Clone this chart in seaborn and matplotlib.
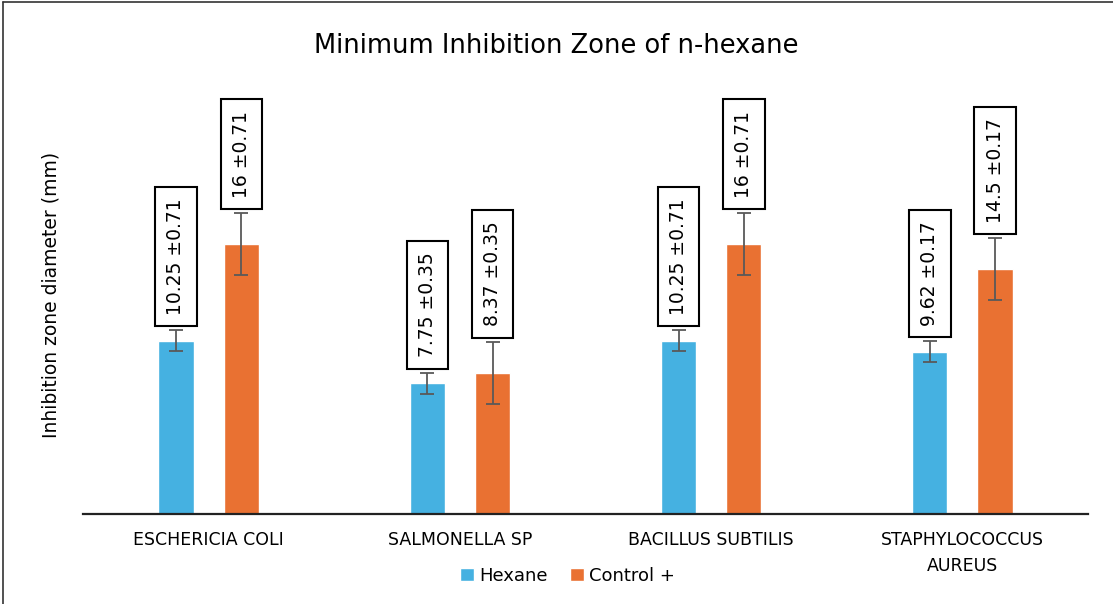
import pandas as pd
import matplotlib.pyplot as plt
import seaborn as sns
from matplotlib.lines import Line2D

# Datos
organismos = ['ESCHERICIA COLI', 'SALMONELLA SP', 'BACILLUS SUBTILIS', 'STAPHYLOCOCCUS\nAUREUS']
hexano = [10.25, 7.75, 10.25, 9.62]
control = [16, 8.37, 16, 14.5]
err_hexano = [0.62, 0.62, 0.62, 0.62]
err_control = [1.83, 1.83, 1.83, 1.83]
etiq_hexano = ['10.25 \u00b10.71', '7.75 \u00b10.35', '10.25 \u00b10.71', '9.62 \u00b10.17']
etiq_control = ['16 \u00b10.71', '8.37 \u00b10.35', '16 \u00b10.71', '14.5 \u00b10.17']
series = ['Hexane', 'Control +']
colores = ['#45B1E1', '#E97132']

df = pd.DataFrame({
    'organismo': organismos * 2,
    'valor': hexano + control,
    'serie': [series[0]] * 4 + [series[1]] * 4,
})

sns.set_style('white')
plt.rcParams['font.family'] = ['DejaVu Sans']
plt.rcParams['text.color'] = 'black'
plt.rcParams['axes.labelcolor'] = 'black'
plt.rcParams['xtick.color'] = 'black'

fig = plt.figure(figsize=(11.13, 6.04), dpi=100)
ax = fig.add_axes([0.0746, 0.149, 0.903, 0.727])

sns.barplot(data=df, x='organismo', y='valor', hue='serie', palette=colores,
            saturation=1, width=0.52, gap=0.46, ax=ax, errorbar=None)

# Barras de error y etiquetas con recuadro
for cont, vals, errs, etiqs in zip(ax.containers, [hexano, control],
                                   [err_hexano, err_control], [etiq_hexano, etiq_control]):
    xs = [p.get_x() + p.get_width() / 2 for p in cont.patches]
    ax.errorbar(xs, vals, yerr=errs, fmt='none', ecolor='#595959',
                elinewidth=1.3, capsize=5, capthick=1.3)
    for x, v, e, t in zip(xs, vals, errs, etiqs):
        ax.annotate(t, xy=(x, v + e), xytext=(0, 11), textcoords='offset points',
                    rotation=90, ha='center', va='bottom', fontsize=13.5,
                    bbox=dict(boxstyle='square,pad=0.6', fc='white', ec='black', lw=1.5))

ax.set_ylim(0, 26)
ax.set_xlim(-0.5, 3.5)
ax.set_yticks([])
ax.set_xlabel('')
ax.set_ylabel('Inhibition zone diameter (mm)', fontsize=13.5, labelpad=16)
ax.tick_params(axis='x', length=0, pad=12, labelsize=12.5)
for lab in ax.get_xticklabels():
    lab.set_linespacing(1.6)
for s in ['left', 'right', 'top']:
    ax.spines[s].set_visible(False)
ax.spines['bottom'].set_color('#222222')
ax.spines['bottom'].set_linewidth(1.6)

fig.suptitle('Minimum Inhibition Zone of n-hexane', fontsize=18.5, y=0.945)

ax.legend(loc='upper center', bbox_to_anchor=(0.482, -0.083), ncol=2, frameon=False,
          fontsize=13, handlelength=0.8, handleheight=0.8, handletextpad=0.3,
          columnspacing=1.2)

# Marco de la figura
fig.add_artist(Line2D([0.003, 0.003], [0, 0.997], color='#333333', lw=1.2))
fig.add_artist(Line2D([0.003, 1], [0.997, 0.997], color='#333333', lw=1.2))

plt.savefig('out.png', dpi=100)
